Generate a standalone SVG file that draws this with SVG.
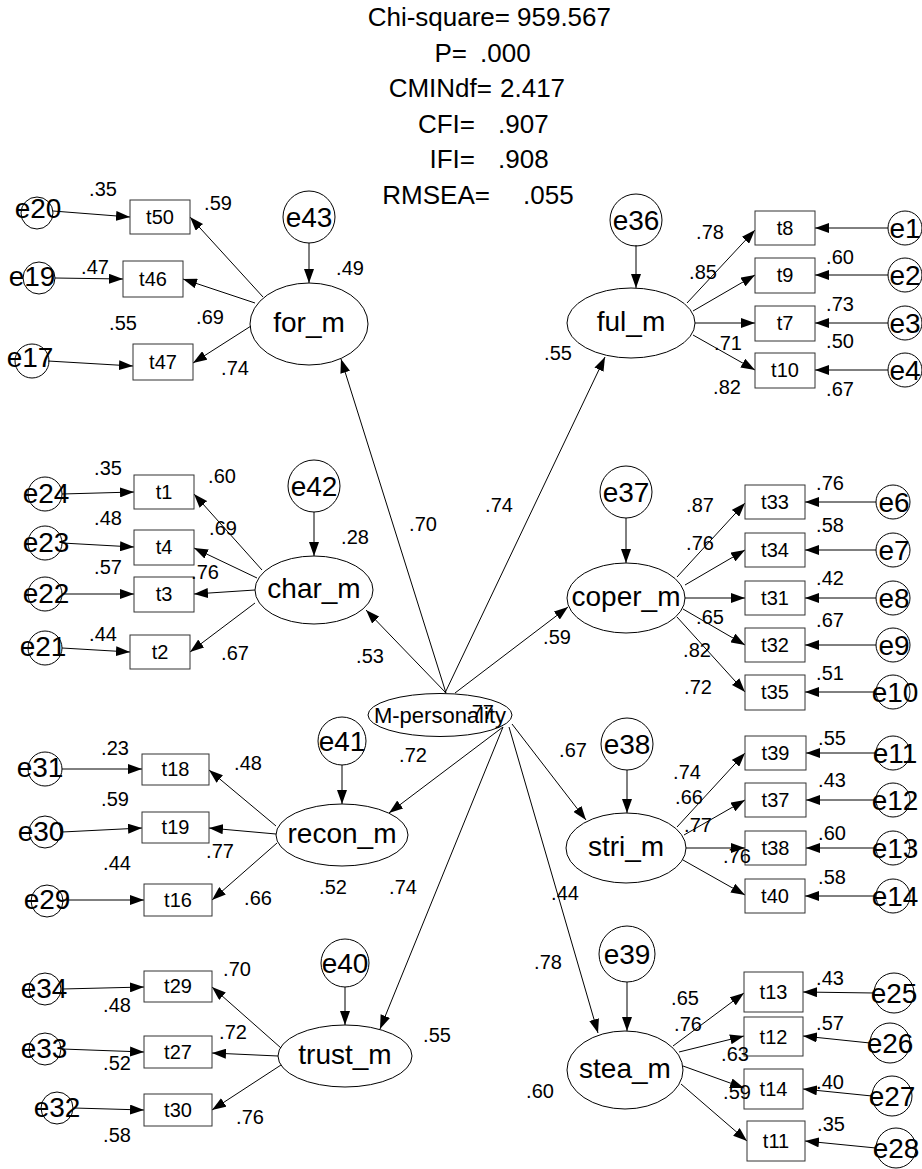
<svg xmlns="http://www.w3.org/2000/svg" width="922" height="1169" viewBox="0 0 922 1169">
<style>
text{font-family:"Liberation Sans",Arial,sans-serif;fill:#000}
.n{fill:none;stroke:#000;stroke-width:1}
.r{fill:none;stroke:#333;stroke-width:1}
.c{stroke:#000;stroke-width:1;fill:none;marker-end:url(#ah)}
.h{font-size:26px}
.he{font-size:26px;text-anchor:end}
.e{font-size:28px;text-anchor:middle}
.l{font-size:28px;text-anchor:middle}
.o{font-size:20px;text-anchor:middle}
.v{font-size:20px;text-anchor:middle}
.m{font-size:22px;text-anchor:middle}
</style>
<defs>
<marker id="ah" markerUnits="userSpaceOnUse" markerWidth="14" markerHeight="10" refX="14" refY="5" orient="auto"><path d="M0,0 L14,5 L0,10 z" fill="#000"/></marker>
</defs>
<rect x="0" y="0" width="922" height="1169" fill="#fff"/>
<g id="fit">
<text class="he" x="510" y="26">Chi-square=</text><text class="h" x="517" y="26">959.567</text>
<text class="he" x="467" y="62">P=</text><text class="h" x="480" y="62">.000</text>
<text class="he" x="492" y="97">CMINdf=</text><text class="h" x="500" y="97">2.417</text>
<text class="he" x="475" y="133">CFI=</text><text class="h" x="498" y="133">.907</text>
<text class="he" x="475" y="168">IFI=</text><text class="h" x="498" y="168">.908</text>
<text class="he" x="490" y="204">RMSEA=</text><text class="h" x="523" y="204">.055</text>
</g>
<g id="connectors">
<line class="c" x1="309" y1="243" x2="309" y2="283"/>
<line class="c" x1="263" y1="297" x2="190" y2="217"/>
<line class="c" x1="255" y1="303" x2="183" y2="279"/>
<line class="c" x1="251" y1="326" x2="193" y2="363"/>
<line class="c" x1="53" y1="211" x2="130" y2="217"/>
<line class="c" x1="55" y1="278" x2="123" y2="279"/>
<line class="c" x1="48" y1="361" x2="133" y2="366"/>
<line class="c" x1="446" y1="693" x2="341" y2="359"/>
<line class="c" x1="636" y1="245" x2="636" y2="288"/>
<line class="c" x1="687" y1="303" x2="755" y2="230"/>
<line class="c" x1="693" y1="311" x2="755" y2="275"/>
<line class="c" x1="695" y1="323" x2="755" y2="323"/>
<line class="c" x1="693" y1="335" x2="755" y2="370"/>
<line class="c" x1="888" y1="228" x2="815" y2="228"/>
<line class="c" x1="888" y1="275" x2="815" y2="275"/>
<line class="c" x1="888" y1="323" x2="815" y2="323"/>
<line class="c" x1="888" y1="370" x2="815" y2="370"/>
<line class="c" x1="445" y1="693" x2="605" y2="357"/>
<line class="c" x1="314" y1="512" x2="314" y2="556"/>
<line class="c" x1="262" y1="570" x2="194" y2="494"/>
<line class="c" x1="257" y1="578" x2="194" y2="548"/>
<line class="c" x1="255" y1="590" x2="194" y2="594"/>
<line class="c" x1="255" y1="603" x2="190" y2="652"/>
<line class="c" x1="62" y1="494" x2="134" y2="492"/>
<line class="c" x1="62" y1="543" x2="134" y2="547"/>
<line class="c" x1="62" y1="594" x2="134" y2="594"/>
<line class="c" x1="62" y1="648" x2="130" y2="652"/>
<line class="c" x1="446" y1="693" x2="366" y2="610"/>
<line class="c" x1="626" y1="518" x2="626" y2="563"/>
<line class="c" x1="677" y1="577" x2="745" y2="503"/>
<line class="c" x1="685" y1="585" x2="745" y2="550"/>
<line class="c" x1="685" y1="598" x2="745" y2="598"/>
<line class="c" x1="683" y1="609" x2="745" y2="645"/>
<line class="c" x1="677" y1="617" x2="745" y2="692"/>
<line class="c" x1="876" y1="502" x2="805" y2="502"/>
<line class="c" x1="876" y1="550" x2="805" y2="550"/>
<line class="c" x1="876" y1="598" x2="805" y2="598"/>
<line class="c" x1="876" y1="645" x2="805" y2="645"/>
<line class="c" x1="876" y1="692" x2="805" y2="692"/>
<line class="c" x1="455" y1="693" x2="568" y2="607"/>
<line class="c" x1="342" y1="765" x2="342" y2="804"/>
<line class="c" x1="276" y1="826" x2="209" y2="770"/>
<line class="c" x1="276" y1="834" x2="209" y2="828"/>
<line class="c" x1="277" y1="843" x2="212" y2="900"/>
<line class="c" x1="62" y1="769" x2="142" y2="769"/>
<line class="c" x1="62" y1="832" x2="142" y2="828"/>
<line class="c" x1="63" y1="900" x2="144" y2="900"/>
<line class="c" x1="503" y1="727" x2="389" y2="813"/>
<line class="c" x1="345" y1="987" x2="345" y2="1025"/>
<line class="c" x1="281" y1="1048" x2="212" y2="987"/>
<line class="c" x1="278" y1="1056" x2="212" y2="1053"/>
<line class="c" x1="281" y1="1065" x2="212" y2="1110"/>
<line class="c" x1="62" y1="989" x2="144" y2="987"/>
<line class="c" x1="62" y1="1049" x2="144" y2="1052"/>
<line class="c" x1="74" y1="1108" x2="144" y2="1110"/>
<line class="c" x1="503" y1="727" x2="380" y2="1029"/>
<line class="c" x1="627" y1="770" x2="627" y2="813"/>
<line class="c" x1="677" y1="827" x2="745" y2="753"/>
<line class="c" x1="684" y1="835" x2="745" y2="800"/>
<line class="c" x1="686" y1="848" x2="745" y2="848"/>
<line class="c" x1="683" y1="860" x2="745" y2="895"/>
<line class="c" x1="876" y1="753" x2="806" y2="753"/>
<line class="c" x1="876" y1="800" x2="806" y2="800"/>
<line class="c" x1="876" y1="848" x2="806" y2="848"/>
<line class="c" x1="876" y1="896" x2="805" y2="896"/>
<line class="c" x1="512" y1="724" x2="586" y2="820"/>
<line class="c" x1="627" y1="982" x2="627" y2="1031"/>
<line class="c" x1="673" y1="1046" x2="744" y2="993"/>
<line class="c" x1="679" y1="1052" x2="744" y2="1036"/>
<line class="c" x1="683" y1="1066" x2="744" y2="1088"/>
<line class="c" x1="681" y1="1084" x2="747" y2="1141"/>
<line class="c" x1="874" y1="993" x2="803" y2="992"/>
<line class="c" x1="870" y1="1043" x2="803" y2="1036"/>
<line class="c" x1="872" y1="1096" x2="803" y2="1089"/>
<line class="c" x1="876" y1="1148" x2="805" y2="1141"/>
<line class="c" x1="509" y1="727" x2="598" y2="1033"/>
</g>
<g id="M-personality"><ellipse class="n" cx="440" cy="715" rx="72" ry="21.5"/><text class="m" x="440" y="723">M-personality</text></g>
<g id="for_m"><ellipse class="n" cx="309" cy="324" rx="59" ry="41"/><text class="l" x="309" y="332">for_m</text></g>
<g id="ful_m"><ellipse class="n" cx="631" cy="323" rx="64" ry="35"/><text class="l" x="631" y="331">ful_m</text></g>
<g id="char_m"><ellipse class="n" cx="314" cy="590" rx="59" ry="34"/><text class="l" x="314" y="598">char_m</text></g>
<g id="coper_m"><ellipse class="n" cx="626" cy="598" rx="59" ry="35"/><text class="l" x="626" y="606">coper_m</text></g>
<g id="recon_m"><ellipse class="n" cx="342" cy="835" rx="66" ry="31"/><text class="l" x="342" y="843">recon_m</text></g>
<g id="trust_m"><ellipse class="n" cx="345" cy="1056" rx="67" ry="31"/><text class="l" x="345" y="1064">trust_m</text></g>
<g id="stri_m"><ellipse class="n" cx="626" cy="848" rx="60" ry="35"/><text class="l" x="626" y="856">stri_m</text></g>
<g id="stea_m"><ellipse class="n" cx="625" cy="1070" rx="58" ry="39"/><text class="l" x="625" y="1078">stea_m</text></g>
<g id="t50"><rect class="r" x="130" y="200" width="60" height="34"/><text class="o" x="160" y="224">t50</text></g>
<g id="t46"><rect class="r" x="123" y="261" width="60" height="36"/><text class="o" x="153" y="286">t46</text></g>
<g id="t47"><rect class="r" x="133" y="344" width="60" height="36"/><text class="o" x="163" y="369">t47</text></g>
<g id="t8"><rect class="r" x="755" y="211" width="60" height="34"/><text class="o" x="785" y="235">t8</text></g>
<g id="t9"><rect class="r" x="755" y="258" width="60" height="35"/><text class="o" x="785" y="282">t9</text></g>
<g id="t7"><rect class="r" x="755" y="306" width="60" height="35"/><text class="o" x="785" y="330">t7</text></g>
<g id="t10"><rect class="r" x="755" y="353" width="60" height="35"/><text class="o" x="785" y="377">t10</text></g>
<g id="t1"><rect class="r" x="134" y="475" width="60" height="34"/><text class="o" x="164" y="499">t1</text></g>
<g id="t4"><rect class="r" x="134" y="530" width="60" height="35"/><text class="o" x="164" y="554">t4</text></g>
<g id="t3"><rect class="r" x="134" y="577" width="60" height="35"/><text class="o" x="164" y="601">t3</text></g>
<g id="t2"><rect class="r" x="130" y="635" width="60" height="34"/><text class="o" x="160" y="659">t2</text></g>
<g id="t33"><rect class="r" x="745" y="485" width="60" height="34"/><text class="o" x="775" y="509">t33</text></g>
<g id="t34"><rect class="r" x="745" y="533" width="60" height="34"/><text class="o" x="775" y="557">t34</text></g>
<g id="t31"><rect class="r" x="745" y="581" width="60" height="34"/><text class="o" x="775" y="605">t31</text></g>
<g id="t32"><rect class="r" x="745" y="628" width="60" height="34"/><text class="o" x="775" y="652">t32</text></g>
<g id="t35"><rect class="r" x="745" y="675" width="60" height="35"/><text class="o" x="775" y="699">t35</text></g>
<g id="t18"><rect class="r" x="142" y="754" width="67" height="31"/><text class="o" x="175.5" y="776">t18</text></g>
<g id="t19"><rect class="r" x="142" y="812" width="67" height="31"/><text class="o" x="175.5" y="834">t19</text></g>
<g id="t16"><rect class="r" x="144" y="884" width="68" height="32"/><text class="o" x="178" y="907">t16</text></g>
<g id="t29"><rect class="r" x="144" y="971" width="68" height="31"/><text class="o" x="178" y="993">t29</text></g>
<g id="t27"><rect class="r" x="144" y="1036" width="68" height="32"/><text class="o" x="178" y="1059">t27</text></g>
<g id="t30"><rect class="r" x="144" y="1094" width="68" height="32"/><text class="o" x="178" y="1117">t30</text></g>
<g id="t39"><rect class="r" x="745" y="736" width="61" height="34"/><text class="o" x="775.5" y="760">t39</text></g>
<g id="t37"><rect class="r" x="745" y="783" width="61" height="34"/><text class="o" x="775.5" y="807">t37</text></g>
<g id="t38"><rect class="r" x="745" y="831" width="61" height="34"/><text class="o" x="775.5" y="855">t38</text></g>
<g id="t40"><rect class="r" x="745" y="879" width="60" height="34"/><text class="o" x="775" y="903">t40</text></g>
<g id="t13"><rect class="r" x="744" y="972" width="59" height="40"/><text class="o" x="773.5" y="999">t13</text></g>
<g id="t12"><rect class="r" x="744" y="1017" width="59" height="39"/><text class="o" x="773.5" y="1044">t12</text></g>
<g id="t14"><rect class="r" x="744" y="1069" width="59" height="40"/><text class="o" x="773.5" y="1096">t14</text></g>
<g id="t11"><rect class="r" x="747" y="1121" width="58" height="40"/><text class="o" x="776" y="1148">t11</text></g>
<g id="e43"><circle class="n" cx="309" cy="217" r="26"/><text class="e" x="309" y="227">e43</text></g>
<g id="e36"><circle class="n" cx="636" cy="220" r="26"/><text class="e" x="636" y="230">e36</text></g>
<g id="e42"><circle class="n" cx="314" cy="486" r="26"/><text class="e" x="314" y="496">e42</text></g>
<g id="e37"><circle class="n" cx="626" cy="492" r="26"/><text class="e" x="626" y="502">e37</text></g>
<g id="e41"><circle class="n" cx="342" cy="741" r="24"/><text class="e" x="342" y="751">e41</text></g>
<g id="e38"><circle class="n" cx="627" cy="744" r="26"/><text class="e" x="627" y="754">e38</text></g>
<g id="e40"><circle class="n" cx="345" cy="963" r="24"/><text class="e" x="345" y="973">e40</text></g>
<g id="e39"><circle class="n" cx="627" cy="954" r="28"/><text class="e" x="627" y="964">e39</text></g>
<g id="e20"><circle class="n" cx="37" cy="213" r="16"/><text class="e" x="38" y="218">e20</text></g>
<g id="e19"><circle class="n" cx="39" cy="278" r="16"/><text class="e" x="32" y="286">e19</text></g>
<g id="e17"><circle class="n" cx="32" cy="361" r="17"/><text class="e" x="30" y="367">e17</text></g>
<g id="e24"><circle class="n" cx="45" cy="494" r="17"/><text class="e" x="46" y="503">e24</text></g>
<g id="e23"><circle class="n" cx="45" cy="543" r="17"/><text class="e" x="46" y="552">e23</text></g>
<g id="e22"><circle class="n" cx="45" cy="594" r="17"/><text class="e" x="46" y="603">e22</text></g>
<g id="e21"><circle class="n" cx="45" cy="648" r="17"/><text class="e" x="43" y="656">e21</text></g>
<g id="e31"><circle class="n" cx="45" cy="769" r="17"/><text class="e" x="40" y="777">e31</text></g>
<g id="e30"><circle class="n" cx="45" cy="832" r="16"/><text class="e" x="41" y="841">e30</text></g>
<g id="e29"><circle class="n" cx="47" cy="901" r="16"/><text class="e" x="47" y="909">e29</text></g>
<g id="e34"><circle class="n" cx="45" cy="989" r="16"/><text class="e" x="44" y="998">e34</text></g>
<g id="e33"><circle class="n" cx="45" cy="1049" r="16"/><text class="e" x="44" y="1058">e33</text></g>
<g id="e32"><circle class="n" cx="57" cy="1108" r="16"/><text class="e" x="57" y="1117">e32</text></g>
<g id="e1"><circle class="n" cx="905" cy="228" r="17"/><text class="e" x="905" y="238">e1</text></g>
<g id="e2"><circle class="n" cx="905" cy="275" r="17"/><text class="e" x="905" y="285">e2</text></g>
<g id="e3"><circle class="n" cx="905" cy="323" r="17"/><text class="e" x="905" y="333">e3</text></g>
<g id="e4"><circle class="n" cx="905" cy="370" r="17"/><text class="e" x="905" y="380">e4</text></g>
<g id="e6"><circle class="n" cx="893" cy="502" r="17"/><text class="e" x="894" y="512">e6</text></g>
<g id="e7"><circle class="n" cx="893" cy="550" r="17"/><text class="e" x="894" y="560">e7</text></g>
<g id="e8"><circle class="n" cx="893" cy="598" r="17"/><text class="e" x="894" y="608">e8</text></g>
<g id="e9"><circle class="n" cx="893" cy="645" r="17"/><text class="e" x="894" y="655">e9</text></g>
<g id="e10"><circle class="n" cx="893" cy="692" r="17"/><text class="e" x="895" y="702">e10</text></g>
<g id="e11"><circle class="n" cx="893" cy="753" r="17"/><text class="e" x="895" y="763">e11</text></g>
<g id="e12"><circle class="n" cx="893" cy="800" r="17"/><text class="e" x="895" y="810">e12</text></g>
<g id="e13"><circle class="n" cx="893" cy="848" r="17"/><text class="e" x="895" y="858">e13</text></g>
<g id="e14"><circle class="n" cx="893" cy="896" r="17"/><text class="e" x="895" y="906">e14</text></g>
<g id="e25"><circle class="n" cx="894" cy="993" r="20"/><text class="e" x="894" y="1003">e25</text></g>
<g id="e26"><circle class="n" cx="890" cy="1043" r="20"/><text class="e" x="890" y="1053">e26</text></g>
<g id="e27"><circle class="n" cx="892" cy="1096" r="20"/><text class="e" x="892" y="1106">e27</text></g>
<g id="e28"><circle class="n" cx="896" cy="1148" r="20"/><text class="e" x="896" y="1158">e28</text></g>
<g id="labels">
<text class="v" x="350" y="275">.49</text><text class="v" x="103" y="196">.35</text><text class="v" x="218" y="210">.59</text><text class="v" x="95" y="274">.47</text><text class="v" x="210" y="324">.69</text><text class="v" x="123" y="330">.55</text><text class="v" x="235" y="375">.74</text>
<text class="v" x="710" y="239">.78</text><text class="v" x="703" y="279">.85</text><text class="v" x="728" y="350">.71</text><text class="v" x="727" y="394">.82</text><text class="v" x="840" y="264">.60</text><text class="v" x="840" y="311">.73</text><text class="v" x="840" y="348">.50</text><text class="v" x="840" y="396">.67</text><text class="v" x="558" y="360">.55</text>
<text class="v" x="108" y="475">.35</text><text class="v" x="222" y="483">.60</text><text class="v" x="108" y="525">.48</text><text class="v" x="223" y="535">.69</text><text class="v" x="108" y="574">.57</text><text class="v" x="205" y="579">.76</text><text class="v" x="355" y="544">.28</text><text class="v" x="103" y="641">.44</text><text class="v" x="235" y="660">.67</text><text class="v" x="370" y="663">.53</text>
<text class="v" x="423" y="531">.70</text><text class="v" x="499" y="512">.74</text><text class="v" x="557" y="644">.59</text><text class="v" x="480" y="719">.77</text><text class="v" x="413" y="762">.72</text><text class="v" x="573" y="757">.67</text>
<text class="v" x="700" y="512">.87</text><text class="v" x="700" y="550">.76</text><text class="v" x="710" y="624">.65</text><text class="v" x="830" y="490">.76</text><text class="v" x="830" y="532">.58</text><text class="v" x="830" y="585">.42</text><text class="v" x="830" y="627">.67</text><text class="v" x="697" y="657">.82</text><text class="v" x="698" y="694">.72</text><text class="v" x="830" y="680">.51</text>
<text class="v" x="115" y="755">.23</text><text class="v" x="248" y="770">.48</text><text class="v" x="115" y="806">.59</text><text class="v" x="220" y="858">.77</text><text class="v" x="117" y="870">.44</text><text class="v" x="258" y="905">.66</text><text class="v" x="333" y="894">.52</text><text class="v" x="403" y="894">.74</text>
<text class="v" x="237" y="976">.70</text><text class="v" x="117" y="1012">.48</text><text class="v" x="233" y="1039">.72</text><text class="v" x="117" y="1070">.52</text><text class="v" x="250" y="1124">.76</text><text class="v" x="117" y="1142">.58</text><text class="v" x="437" y="1042">.55</text>
<text class="v" x="687" y="779">.74</text><text class="v" x="689" y="804">.66</text><text class="v" x="698" y="832">.77</text><text class="v" x="737" y="863">.76</text><text class="v" x="832" y="745">.55</text><text class="v" x="832" y="787">.43</text><text class="v" x="832" y="840">.60</text><text class="v" x="832" y="884">.58</text><text class="v" x="565" y="900">.44</text>
<text class="v" x="685" y="1005">.65</text><text class="v" x="688" y="1031">.76</text><text class="v" x="735" y="1061">.63</text><text class="v" x="737" y="1099">.59</text><text class="v" x="830" y="985">.43</text><text class="v" x="830" y="1030">.57</text><text class="v" x="830" y="1089">.40</text><text class="v" x="831" y="1131">.35</text><text class="v" x="548" y="969">.78</text><text class="v" x="540" y="1098">.60</text>
</g>
</svg>
